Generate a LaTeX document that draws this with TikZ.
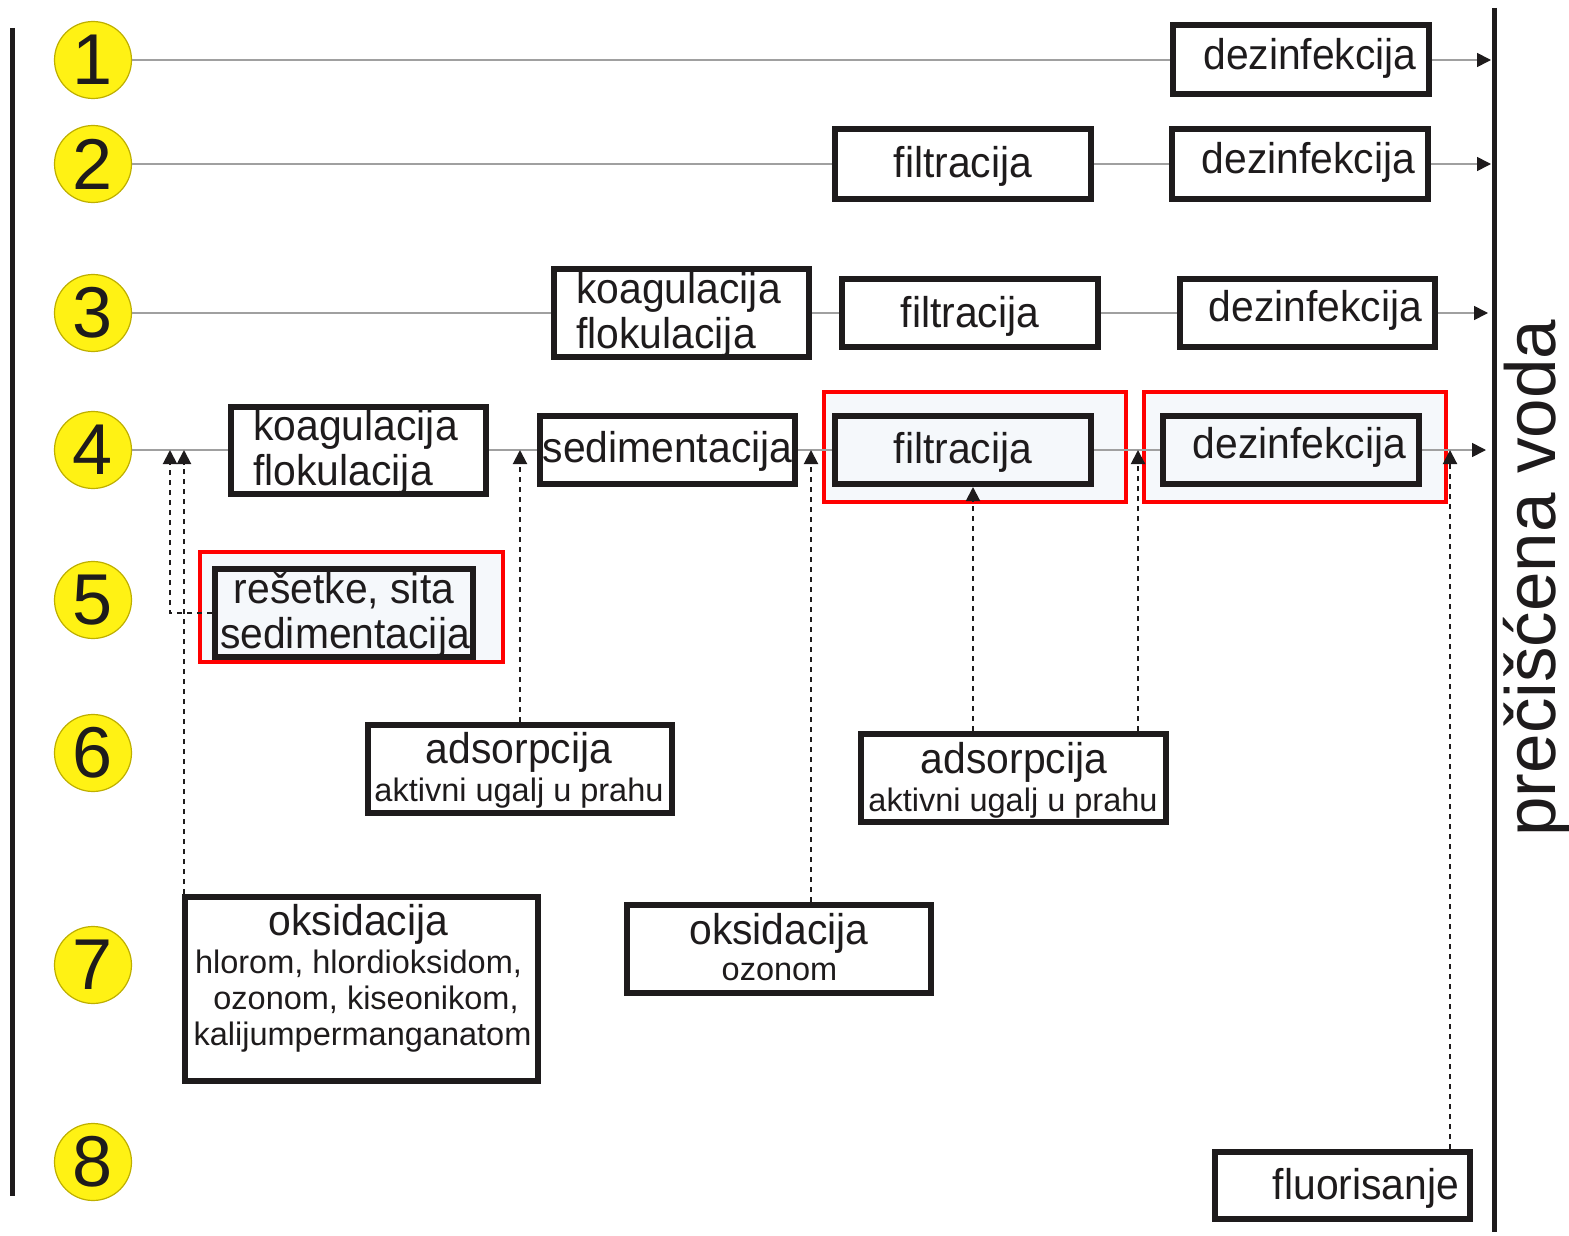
\documentclass[tikz,border=0pt]{standalone}
\usepackage{fontspec}
\setmainfont{Liberation Sans}[FakeStretch=0.95]
\newfontfamily\numfont{Liberation Sans}
\usetikzlibrary{arrows.meta}
\definecolor{numyellow}{RGB}{255,242,20}
\definecolor{numborder}{RGB}{190,175,0}
\definecolor{inkc}{RGB}{30,27,28}
\definecolor{lightfill}{RGB}{245,248,251}
\definecolor{linegray}{RGB}{160,160,160}
\tikzset{
  box/.style={draw=inkc, line width=3pt, fill=white, inner sep=0pt},
  lbox/.style={box, fill=lightfill},
  redbox/.style={draw=red, line width=2.2pt, fill=lightfill, inner sep=0pt},
  num/.style={circle, fill=numyellow, draw=numborder, line width=0.6pt, minimum size=38.5pt, inner sep=0pt, text=inkc, font=\numfont\fontsize{36}{36}\selectfont},
  big/.style={font=\fontsize{21.5}{24}\selectfont, inner sep=0pt, anchor=base, text=inkc},
  bigl/.style={big, anchor=base west},
  small/.style={font=\numfont\fontsize{16.25}{19}\selectfont, inner sep=0pt, anchor=base, text=inkc},
  rowline/.style={draw=linegray, line width=0.8pt},
  rowarrow/.style={rowline, -{Triangle[width=7pt,length=7pt,color=inkc]}},
  dotarrow/.style={draw=inkc, line width=1pt, dash pattern=on 2.5pt off 2.5pt, -{Triangle[width=7pt,length=7pt]}},
  frame/.style={draw=inkc, line width=2.5pt}
}
\begin{document}
\begin{tikzpicture}[x=0.5pt,y=-0.5pt]
\useasboundingbox (0,0) rectangle (1569,1236);
% frame lines
\draw[frame] (12,28) -- (12,1196);
\draw[frame] (1494,8) -- (1494,1232);
% number circles
\node[num] (c1) at (93,60) {1};
\node[num] (c2) at (93,164) {2};
\node[num] (c3) at (93,313) {3};
\node[num] (c4) at (93,450) {4};
\node[num] (c5) at (93,600) {5};
\node[num] (c6) at (93,753) {6};
\node[num] (c7) at (93,965) {7};
\node[num] (c8) at (93,1162) {8};
% red highlight boxes
\node[redbox, minimum width=150.8pt, minimum height=54.8pt] (red1) at (975,447) {};
\node[redbox, minimum width=150.8pt, minimum height=54.8pt] (red2) at (1295,447) {};
\node[redbox, minimum width=151.3pt, minimum height=54.8pt] (red3) at (351.5,607) {};
% boxes
\node[box, minimum width=128pt, minimum height=34.5pt] (r1d) at (1301,60) {};
\node[box, minimum width=128pt, minimum height=34.5pt] (r2f) at (963,164) {};
\node[box, minimum width=128pt, minimum height=34.5pt] (r2d) at (1300,164) {};
\node[box, minimum width=127.5pt, minimum height=44pt] (r3k) at (681.5,313) {};
\node[box, minimum width=128pt, minimum height=34pt] (r3f) at (970,313) {};
\node[box, minimum width=127.5pt, minimum height=34pt] (r3d) at (1307.5,313) {};
\node[box, minimum width=127.5pt, minimum height=43.5pt] (r4k) at (358.5,450) {};
\node[box, minimum width=127.5pt, minimum height=34pt] (r4s) at (667.5,450) {};
\node[lbox, minimum width=128pt, minimum height=34pt] (r4f) at (963,450) {};
\node[lbox, minimum width=128pt, minimum height=34pt] (r4d) at (1291,450) {};
\node[lbox, minimum width=129pt, minimum height=44pt] (r5) at (344,613) {};
\node[box, minimum width=152pt, minimum height=44pt] (r6a) at (520,769) {};
\node[box, minimum width=152.5pt, minimum height=44pt] (r6b) at (1013.5,778) {};
\node[box, minimum width=176.5pt, minimum height=92pt] (r7a) at (361.5,989) {};
\node[box, minimum width=152pt, minimum height=44pt] (r7b) at (779,949) {};
\node[box, minimum width=127.5pt, minimum height=33.5pt] (r8) at (1342.5,1185.5) {};
% texts
\node[big] (t1d) at (1310,70) {dezinfekcija};
\node[big] (t2f) at (963,177) {filtracija};
\node[big] (t2d) at (1308.5,174) {dezinfekcija};
\node[bigl] (t3k1) at (576,303.5) {koagulacija};
\node[bigl] (t3k2) at (576,348.5) {flokulacija};
\node[big] (t3f) at (970,327.5) {filtracija};
\node[big] (t3d) at (1315.5,321.5) {dezinfekcija};
\node[bigl] (t4k1) at (253,440.5) {koagulacija};
\node[bigl] (t4k2) at (253,485.5) {flokulacija};
\node[big] (t4s) at (667.5,462.5) {sedimentacija};
\node[big] (t4f) at (963,463.5) {filtracija};
\node[big] (t4d) at (1299.5,458.5) {dezinfekcija};
\node[big] (t51) at (344,603.5) {rešetke, sita};
\node[big] (t52) at (345,648.5) {sedimentacija};
\node[big] (t6a1) at (519,763.5) {adsorpcija};
\node[small] (t6a2) at (519,801) {aktivni ugalj u prahu};
\node[big] (t6b1) at (1014,773.5) {adsorpcija};
\node[small] (t6b2) at (1013,811) {aktivni ugalj u prahu};
\node[big] (t7a1) at (358.5,935.5) {oksidacija};
\node[small] (t7a2) at (358.5,973.5) {hlorom, hlordioksidom,};
\node[small] (t7a3) at (366,1009.5) {ozonom, kiseonikom,};
\node[small] (t7a4) at (362.5,1045.5) {kalijumpermanganatom};
\node[big] (t7b1) at (779,944.5) {oksidacija};
\node[small] (t7b2) at (779.5,980.5) {ozonom};
\node[big] (t8) at (1366,1199.5) {fluorisanje};
\node[rotate=90, inner sep=0pt, text=inkc, font=\numfont\fontsize{35.5}{36}\selectfont] (voda) at (1537,578) {prečišćena voda};
% end coordinates
\coordinate (e1) at (1491,60);
\coordinate (e2) at (1491,164);
\coordinate (e3) at (1488,313);
\coordinate (e4) at (1486,450);
% row lines
\draw[rowline] (c1) -- (r1d);
\draw[rowarrow] (r1d) -- (e1);
\draw[rowline] (c2) -- (r2f);
\draw[rowline] (r2f) -- (r2d);
\draw[rowarrow] (r2d) -- (e2);
\draw[rowline] (c3) -- (r3k);
\draw[rowline] (r3k) -- (r3f);
\draw[rowline] (r3f) -- (r3d);
\draw[rowarrow] (r3d) -- (e3);
\draw[rowline] (c4) -- (r4k);
\draw[rowline] (r4k) -- (r4s);
\draw[rowline] (r4s) -- (r4f);
\draw[rowline] (r4f) -- (r4d);
\draw[rowarrow] (r4d) -- (e4);
% dotted feed arrows
\coordinate (a1) at (170,450);
\coordinate (a2) at (184,450);
\coordinate (a3) at (520,450);
\coordinate (a4) at (811,450);
\coordinate (a5) at (973,450);
\coordinate (a6) at (1138,450);
\coordinate (a7) at (1450,450);
\draw[dotarrow] (r5.west) -| (a1);
\draw[dotarrow] (r7a.north -| a2) -- (a2);
\draw[dotarrow] (r6a.north -| a3) -- (a3);
\draw[dotarrow] (r7b.north -| a4) -- (a4);
\draw[dotarrow] (r6b.north -| a5) -- (r4f.south -| a5);
\draw[dotarrow] (r6b.north -| a6) -- (a6);
\draw[dotarrow] (r8.north -| a7) -- (a7);
\end{tikzpicture}
\end{document}
